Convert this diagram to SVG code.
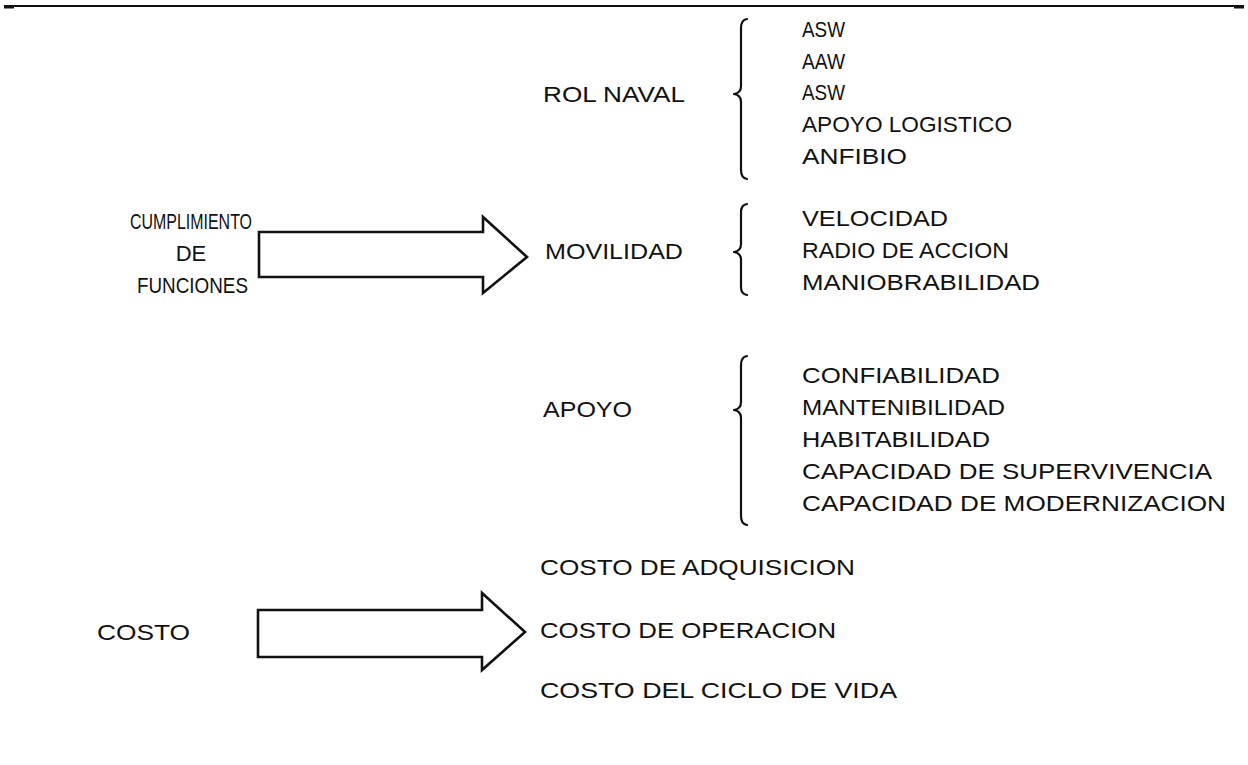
<svg xmlns="http://www.w3.org/2000/svg" width="1248" height="765" viewBox="0 0 1248 765">
<style>
text{font-family:"Liberation Sans",Arial,sans-serif;font-size:22px;fill:#111;}
.mid{text-anchor:middle;}
.brace{fill:none;stroke:#111;stroke-width:2.2;stroke-linejoin:round;stroke-linecap:round;}
.arrow{fill:#fff;stroke:#111;stroke-width:2.6;stroke-linejoin:miter;}
</style>
<rect width="1248" height="765" fill="#fff"/>
<line x1="4" y1="6" x2="1244" y2="6" stroke="#111" stroke-width="2"/>
<line x1="4" y1="7" x2="14" y2="7" stroke="#111" stroke-width="3"/>
<line x1="1234" y1="7" x2="1244" y2="7" stroke="#111" stroke-width="3"/>

<g id="connectors">
<path class="arrow" d="M259,232 L483,232 L483,217 L527,257 L483,293 L483,277 L259,277 Z"/>
<path class="arrow" d="M258,610 L482,610 L482,593 L525,632 L482,670 L482,657 L258,657 Z"/>
<path class="brace" d="M747,19 Q741,20 741,28 L741,86 Q741,93 734,94 Q741,95 741,102 L741,170 Q741,178 747,179"/>
<path class="brace" d="M747,204 Q741,205 741,212 L741,244 Q741,251 734,252 Q741,253 741,260 L741,287 Q741,294 747,295"/>
<path class="brace" d="M747,356 Q741,357 741,365 L741,402 Q741,409 734,410 Q741,411 741,418 L741,516 Q741,524 747,525"/>
</g>

<g id="node-cumplimiento">
<text x="130" y="229" textLength="122" lengthAdjust="spacingAndGlyphs">CUMPLIMIENTO</text>
<text x="191" y="261" class="mid">DE</text>
<text x="137" y="293" textLength="111" lengthAdjust="spacingAndGlyphs">FUNCIONES</text>
</g>

<g id="node-costo">
<text x="97" y="640" textLength="93" lengthAdjust="spacingAndGlyphs">COSTO</text>
</g>

<g id="node-rol-naval">
<text x="543" y="102" textLength="142" lengthAdjust="spacingAndGlyphs">ROL NAVAL</text>
</g>
<g id="node-movilidad">
<text x="545" y="259" textLength="138" lengthAdjust="spacingAndGlyphs">MOVILIDAD</text>
</g>
<g id="node-apoyo">
<text x="543" y="417" textLength="89" lengthAdjust="spacingAndGlyphs">APOYO</text>
</g>

<g id="node-rol-items">
<text x="802" y="37" textLength="43" lengthAdjust="spacingAndGlyphs">ASW</text>
<text x="802" y="69" textLength="43" lengthAdjust="spacingAndGlyphs">AAW</text>
<text x="802" y="100" textLength="43" lengthAdjust="spacingAndGlyphs">ASW</text>
<text x="802" y="132" textLength="210" lengthAdjust="spacingAndGlyphs">APOYO LOGISTICO</text>
<text x="802" y="164" textLength="105" lengthAdjust="spacingAndGlyphs">ANFIBIO</text>
</g>

<g id="node-movilidad-items">
<text x="802" y="226" textLength="146" lengthAdjust="spacingAndGlyphs">VELOCIDAD</text>
<text x="802" y="258" textLength="207" lengthAdjust="spacingAndGlyphs">RADIO DE ACCION</text>
<text x="802" y="290" textLength="238" lengthAdjust="spacingAndGlyphs">MANIOBRABILIDAD</text>
</g>

<g id="node-apoyo-items">
<text x="802" y="383" textLength="198" lengthAdjust="spacingAndGlyphs">CONFIABILIDAD</text>
<text x="802" y="415" textLength="203" lengthAdjust="spacingAndGlyphs">MANTENIBILIDAD</text>
<text x="802" y="447" textLength="188" lengthAdjust="spacingAndGlyphs">HABITABILIDAD</text>
<text x="802" y="479" textLength="410" lengthAdjust="spacingAndGlyphs">CAPACIDAD DE SUPERVIVENCIA</text>
<text x="802" y="511" textLength="424" lengthAdjust="spacingAndGlyphs">CAPACIDAD DE MODERNIZACION</text>
</g>

<g id="node-costo-items">
<text x="540" y="575" textLength="315" lengthAdjust="spacingAndGlyphs">COSTO DE ADQUISICION</text>
<text x="540" y="638" textLength="296" lengthAdjust="spacingAndGlyphs">COSTO DE OPERACION</text>
<text x="540" y="698" textLength="357" lengthAdjust="spacingAndGlyphs">COSTO DEL CICLO DE VIDA</text>
</g>
</svg>
